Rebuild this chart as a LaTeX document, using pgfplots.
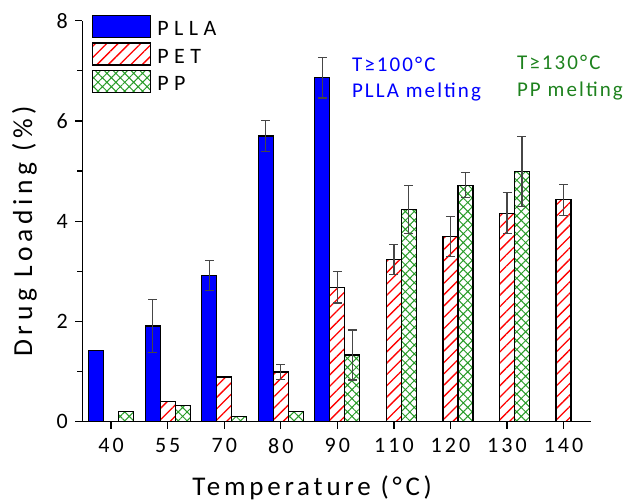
\documentclass[border=0pt]{standalone}
\usepackage{fontspec}
\setmainfont{Carlito}
\newfontfamily\tickfont{Carlito}[LetterSpace=14]
\newfontfamily\legfont{Carlito}[LetterSpace=25]
\newfontfamily\labelfont{Carlito}[LetterSpace=14]
\newfontfamily\ylabelfont{Carlito}[LetterSpace=17]
\newfontfamily\notefont{Carlito}[LetterSpace=10]
\usepackage{pgfplots}
\usepackage{pgfplotstable}
\pgfplotsset{compat=1.18}
\usetikzlibrary{patterns.meta}

\definecolor{pllablue}{RGB}{0,0,255}
\definecolor{petred}{RGB}{255,0,0}
\definecolor{ppgreen}{RGB}{40,155,40}
\definecolor{notegreen}{RGB}{30,130,30}
\definecolor{errgray}{RGB}{70,70,70}

% bar heights (category index, drug loading in %)
\pgfplotstableread{
x y
0 1.42
1 1.91
2 2.92
3 5.70
4 6.86
}\plla
\pgfplotstableread{
x y
1 0.41
2 0.89
3 0.99
4 2.68
5 3.23
6 3.69
7 4.16
8 4.43
}\pet
\pgfplotstableread{
x y
0 0.21
1 0.33
2 0.11
3 0.21
4 1.33
5 4.23
6 4.72
7 4.99
}\pp
% standard deviations where measured
\pgfplotstableread{
x y e
1 1.91 0.53
2 2.92 0.30
3 5.70 0.31
4 6.86 0.40
}\pllaerr
\pgfplotstableread{
x y e
3 0.99 0.15
4 2.68 0.31
5 3.23 0.30
6 3.69 0.40
7 4.16 0.41
8 4.43 0.31
}\peterr
\pgfplotstableread{
x y e
4 1.33 0.50
5 4.23 0.48
6 4.72 0.25
7 4.99 0.70
}\pperr

\pgfplotsset{
  barbase/.style={ybar, bar width=0.265, draw=black, line width=1.2pt},
  errbars/.style={draw=none, mark=none, forget plot,
    error bars/y dir=both, error bars/y explicit,
    error bars/error bar style={draw=errgray, solid, line width=1.2pt},
    error bars/error mark options={draw=errgray, solid, rotate=90, mark size=4.5pt, line width=1.2pt}},
}

\begin{document}
\begin{tikzpicture}
\begin{axis}[
  at={(0pt,0pt)}, anchor=south west,
  scale only axis, width=508.4pt, height=401pt,
  xmin=-0.51, xmax=8.48, ymin=0, ymax=8,
  clip=false,
  axis x line*=bottom, axis y line*=left,
  axis line style={line width=1.5pt},
  xtick={0,...,8}, xticklabels={40,55,70,80,90,110,120,130,140},
  ytick={0,2,4,6,8}, minor ytick={1,3,5,7},
  tick align=outside,
  major tick length=7pt, minor tick length=5pt,
  tick style={line width=1.3pt, black},
  ticklabel style={font={\tickfont\fontsize{22}{24}\selectfont}},
  xticklabel style={yshift=-6pt},
  yticklabel style={xshift=-4pt},
  /pgf/number format/assume math mode=true,
  xlabel={Temperature (°C)},
  ylabel={Drug Loading (\%)},
  xlabel style={font={\labelfont\fontsize{27}{30}\selectfont}, at={(axis description cs:0.452,-0.165)}, anchor=center},
  ylabel style={font={\ylabelfont\fontsize{27.5}{30}\selectfont}, at={(axis description cs:-0.114,0.475)}, anchor=center},
  legend style={at={(axis description cs:0.019,1.015)}, anchor=north west,
    draw=none, fill=none, inner sep=0pt, row sep=3pt,
    font={\legfont\fontsize{22}{24}\selectfont}},
  legend cell align=left,
  legend image code/.code={\draw[#1, line width=1.2pt] (0pt,-8pt) rectangle (58pt,14pt);
    \path (62pt,0pt);},
]
\addplot[barbase, bar shift=-0.265, fill=pllablue] table {\plla};
\addplot[barbase, bar shift=0, pattern={Lines[angle=45, distance=8pt, line width=1.3pt]}, pattern color=petred] table {\pet};
\addplot[barbase, bar shift=0.265, pattern={Hatch[angle=45, distance=6.3pt, line width=1pt]}, pattern color=ppgreen] table {\pp};
\legend{PLLA, PET, PP}

% error bars, placed over the bars of each group
\addplot[errbars] table[x expr=\thisrow{x}-0.265, y=y, y error=e] {\pllaerr};
\addplot[errbars] table[x=x, y=y, y error=e] {\peterr};
\addplot[errbars] table[x expr=\thisrow{x}+0.265, y=y, y error=e] {\pperr};

\node[anchor=base west, inner sep=0pt, text=pllablue, font={\notefont\fontsize{21}{24}\selectfont}] at (axis cs:4.256,6.99) {T≥100°C};
\node[anchor=base west, inner sep=0pt, text=pllablue, font={\notefont\fontsize{21}{24}\selectfont}] at (axis cs:4.256,6.475) {PLLA melting};
\node[anchor=base west, inner sep=0pt, text=notegreen, font={\notefont\fontsize{21}{24}\selectfont}] at (axis cs:7.174,7.03) {T≥130°C};
\node[anchor=base west, inner sep=0pt, text=notegreen, font={\notefont\fontsize{21}{24}\selectfont}] at (axis cs:7.174,6.49) {PP melting};
\end{axis}
\pgfresetboundingbox
\path (-82.3pt,-79.3pt) rectangle (541.7pt,421.7pt);
\end{tikzpicture}
\end{document}
